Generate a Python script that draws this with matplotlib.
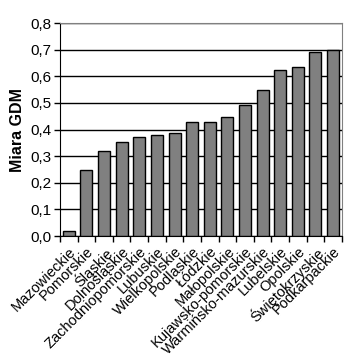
import numpy as np
import matplotlib.pyplot as plt
from matplotlib.ticker import FuncFormatter, FixedLocator

plt.rcParams['font.family'] = ['Liberation Sans', 'DejaVu Sans']

regions = ["Mazowieckie", "Pomorskie", "Śląskie", "Dolnośląskie", "Zachodniopomorskie",
           "Lubuskie", "Wielkopolskie", "Podlaskie", "Łódzkie", "Małopolskie",
           "Kujawsko-pomorskie", "Warmińsko-mazurskie", "Lubelskie", "Opolskie",
           "Świętokrzyskie", "Podkarpackie"]
gdm = [0.018, 0.247, 0.319, 0.352, 0.373, 0.381, 0.389, 0.427, 0.430, 0.446,
       0.491, 0.549, 0.623, 0.635, 0.691, 0.698]

fig = plt.figure(figsize=(3.51, 3.62), dpi=100)
ax = fig.add_axes([0.171, 0.348, 0.803, 0.588])

x = np.arange(len(regions))
ax.set_axisbelow(True)
ax.yaxis.grid(True, color='black', linewidth=1.0)
ax.bar(x, gdm, width=0.68, color='#808080', edgecolor='black', linewidth=1.0, zorder=3)

ax.set_xlim(-0.5, len(regions) - 0.5)
ax.set_ylim(0, 0.8)
ax.set_yticks(np.arange(0, 0.81, 0.1))
ax.yaxis.set_major_formatter(FuncFormatter(lambda v, p: ("%.1f" % v).replace('.', ',')))

ax.set_xticks(x)
ax.set_xticklabels(regions, rotation=45, ha='right', rotation_mode='anchor', fontsize=10.5)
ax.tick_params(axis='x', which='major', length=0, pad=6)
ax.xaxis.set_minor_locator(FixedLocator(np.arange(-0.5, len(regions), 1.0)))
ax.tick_params(axis='x', which='minor', length=4, width=1, color='black')
ax.tick_params(axis='y', length=4, width=1, labelsize=11, pad=2)

ax.set_ylabel("Miara GDM", fontsize=11.5, fontweight='bold', labelpad=4)

for s in ['top', 'right']:
    ax.spines[s].set_color('#808080')
for s in ['left', 'bottom']:
    ax.spines[s].set_color('black')

fig.savefig("out.png", dpi=100)
